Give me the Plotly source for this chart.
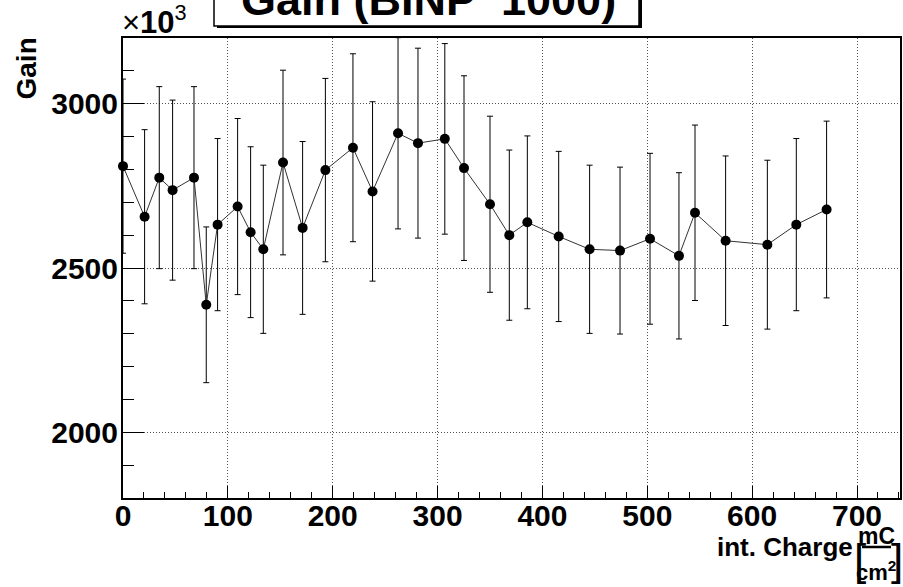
import plotly.graph_objects as go

# ---- data ----
charge = [0, 20.6, 34.6, 47.3, 67.7, 79.4, 90.2, 109.3, 121.7, 133.8, 152.6, 171.3,
          193.0, 219.3, 238.0, 262.3, 281.3, 306.9, 325.2, 350.0, 368.4, 385.6,
          415.5, 445.0, 474.0, 502.6, 530.2, 545.5, 574.7, 614.5, 642.1, 671.0]
gain = [2810, 2656, 2775, 2737, 2775, 2388, 2632, 2687, 2609, 2557, 2821, 2622,
        2798, 2866, 2733, 2910, 2880, 2893, 2804, 2694, 2600, 2639,
        2596, 2557, 2553, 2589, 2537, 2668, 2583, 2571, 2632, 2678]
gain_err = [265, 265, 277, 274, 277, 237, 262, 268, 260, 256, 281, 263,
            279, 286, 273, 291, 289, 290, 281, 268, 259, 263,
            259, 256, 254, 260, 253, 267, 258, 257, 262, 269]

title_text = "Gain (BINP\u00a0\u00a01000)"
y_title = "Gain"
x_title_main = "int. Charge"
x_unit_num = "mC"
x_unit_den = "cm<sup>2</sup>"
y_multiplier = "\u00d7<b>10</b><sup>3</sup>"

W, H = 903, 587
ML, MR, MT, MB = 123, 3, 38, 89
PW, PH = W - ML - MR, H - MT - MB


def px(xp):
    return (xp - ML) / PW


def py(yp):
    return (H - MB - yp) / PH


FONT = "Liberation Sans, Arial, sans-serif"

fig = go.Figure()
fig.add_trace(go.Scatter(
    x=charge, y=gain, mode="lines+markers",
    line=dict(color="#333333", width=1),
    marker=dict(color="black", size=10),
    error_y=dict(type="data", array=gain_err, color="black", thickness=1, width=3),
    cliponaxis=False, showlegend=False, hoverinfo="skip",
))

axis_common = dict(
    showline=True, linecolor="black", linewidth=2, mirror=True, automargin=False,
    showgrid=True, gridcolor="#555555", gridwidth=1, griddash="1px,2px",
    zeroline=False, ticks="inside", tickcolor="black", tickwidth=1,
    tickfont=dict(family=FONT, size=30, color="black", weight="bold"),
)

fig.update_xaxes(range=[0, 741], tick0=0, dtick=100, ticklen=12,
                 minor=dict(dtick=20, ticklen=6, ticks="inside", tickcolor="black", showgrid=False),
                 ticklabelstandoff=-10, **axis_common)
fig.update_yaxes(range=[1800, 3200], tick0=0, dtick=500, ticklen=21, tickformat="d",
                 minor=dict(dtick=100, ticklen=11, ticks="inside", tickcolor="black", showgrid=False),
                 ticklabelstandoff=-3, **axis_common)

shapes = [
    # title box shadow
    dict(type="rect", xref="paper", yref="paper", x0=px(217), x1=px(642), y0=py(28), y1=py(-10),
         fillcolor="black", line=dict(width=0), layer="above"),
    # title box
    dict(type="rect", xref="paper", yref="paper", x0=px(214), x1=px(639), y0=py(26), y1=py(-10),
         fillcolor="white", line=dict(color="black", width=1.5), layer="above"),
    # fraction bar
    dict(type="line", xref="paper", yref="paper", x0=px(862), x1=px(891), y0=py(547), y1=py(547),
         line=dict(color="black", width=2.5)),
]

ann = [
    dict(text=f"<b>{title_text}</b>", x=px(428), y=py(27), xanchor="center", yanchor="bottom",
         font=dict(family=FONT, size=45, color="black")),
    dict(text=f"<b>{y_title}</b>", x=px(26), y=py(68.5), xanchor="center", yanchor="middle",
         textangle=-90, font=dict(family=FONT, size=28, color="black")),
    dict(text=y_multiplier, x=px(120), y=py(42), xanchor="left", yanchor="bottom",
         font=dict(family=FONT, size=31, color="black")),
    dict(text=f"<b>{x_title_main}</b>", x=px(855), y=py(564), xanchor="right", yanchor="bottom",
         font=dict(family=FONT, size=26, color="black")),
    dict(text="[", x=px(852), y=py(586), xanchor="left", yanchor="bottom",
         font=dict(family=FONT, size=44, color="black")),
    dict(text=f"<b>{x_unit_num}</b>", x=px(876.5), y=py(551), xanchor="center", yanchor="bottom",
         font=dict(family=FONT, size=23, color="black")),
    dict(text=f"<b>{x_unit_den}</b>", x=px(875.5), y=py(587), xanchor="center", yanchor="bottom",
         font=dict(family=FONT, size=22, color="black")),
    dict(text="]", x=px(889), y=py(586), xanchor="left", yanchor="bottom",
         font=dict(family=FONT, size=44, color="black")),
]
for a in ann:
    a.update(xref="paper", yref="paper", showarrow=False)

fig.update_layout(
    width=W, height=H, autosize=False,
    margin=dict(l=ML, r=MR, t=MT, b=MB, pad=0),
    paper_bgcolor="white", plot_bgcolor="white",
    shapes=shapes, annotations=ann,
)

fig.write_html("out.html", config={"displayModeBar": False},
               post_script="document.body.style.margin='0';document.body.style.overflow='hidden';")
